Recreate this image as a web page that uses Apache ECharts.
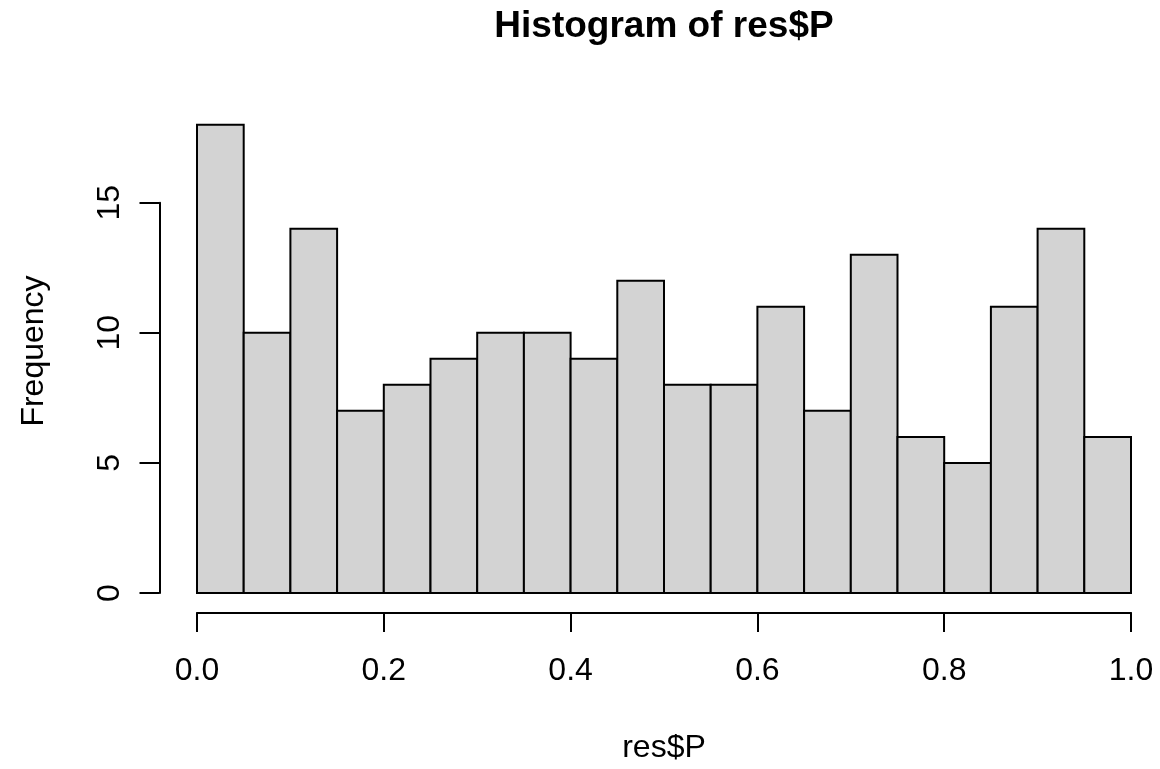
<!DOCTYPE html>
<html>
<head>
<meta charset="utf-8">
<script src="https://cdn.jsdelivr.net/npm/echarts@6/dist/echarts.min.js"></script>
<style>
html,body{margin:0;padding:0;background:#fff;}
#chart{width:1160px;height:769px;}
</style>
</head>
<body>
<div id="chart"></div>
<script>
// ---- data ----
const binEdges = [0, 0.05, 0.1, 0.15, 0.2, 0.25, 0.3, 0.35, 0.4, 0.45, 0.5, 0.55, 0.6, 0.65, 0.7, 0.75, 0.8, 0.85, 0.9, 0.95, 1.0];
const counts = [18, 10, 14, 7, 8, 9, 10, 10, 9, 12, 8, 8, 11, 7, 13, 6, 5, 11, 14, 6];
const xTicks = [0, 0.2, 0.4, 0.6, 0.8, 1.0];
const yTicks = [0, 5, 10, 15];
const titleText = 'Histogram of res$P';
const xLabel = 'res$P';
const yLabel = 'Frequency';

const FONT = '"Liberation Sans", Arial, Helvetica, sans-serif';
const histData = counts.map((c, i) => [binEdges[i], binEdges[i + 1], c]);

const chart = echarts.init(document.getElementById('chart'), null, {renderer: 'canvas'});
chart.setOption({
  backgroundColor: '#ffffff',
  animation: false,
  grid: {left: 197, right: 29, top: 202.7, bottom: 172, containLabel: false},
  xAxis: {
    type: 'value',
    min: xTicks[0],
    max: xTicks[xTicks.length - 1],
    interval: 0.2,
    position: 'bottom',
    offset: 19.5,
    axisLine: {show: true, onZero: false, lineStyle: {color: '#000', width: 2}},
    axisTick: {show: true, length: 19.5, lineStyle: {color: '#000', width: 2}},
    splitLine: {show: false},
    axisLabel: {
      show: true, margin: 58.5, color: '#000', fontSize: 32, fontFamily: FONT,
      verticalAlign: 'middle', lineHeight: 32,
      formatter: v => v.toFixed(1)
    },
    name: xLabel,
    nameLocation: 'middle',
    nameGap: 135.5,
    nameTextStyle: {color: '#000', fontSize: 32, fontFamily: FONT, verticalAlign: 'middle', lineHeight: 32}
  },
  yAxis: {
    type: 'value',
    min: yTicks[0],
    max: yTicks[yTicks.length - 1],
    interval: 5,
    position: 'left',
    offset: 37.5,
    axisLine: {show: true, onZero: false, lineStyle: {color: '#000', width: 2}},
    axisTick: {show: true, length: 20, lineStyle: {color: '#000', width: 2}},
    splitLine: {show: false},
    axisLabel: {
      show: true, rotate: 90, margin: 49, color: '#000', fontSize: 32, fontFamily: FONT,
      align: 'center', verticalAlign: 'middle', lineHeight: 32
    }
  },
  graphic: [
    {
      type: 'text', x: 664, y: 27, silent: true,
      style: {text: titleText, font: 'bold 37px ' + FONT, fill: '#000', align: 'center', verticalAlign: 'middle'}
    },
    {
      type: 'text', x: 34, y: 351, rotation: Math.PI / 2, silent: true,
      style: {text: yLabel, font: '32px ' + FONT, fill: '#000', align: 'center', verticalAlign: 'middle'}
    }
  ],
  series: [{
    type: 'custom',
    clip: false,
    data: histData,
    encode: {x: [0, 1], y: 2},
    renderItem: function (params, api) {
      const p0 = api.coord([api.value(0), 0]);
      const p1 = api.coord([api.value(1), api.value(2)]);
      return {
        type: 'rect',
        shape: {x: p0[0], y: p1[1], width: p1[0] - p0[0], height: p0[1] - p1[1]},
        style: {fill: '#D3D3D3', stroke: '#000', lineWidth: 2}
      };
    }
  }]
});
</script>
</body>
</html>
